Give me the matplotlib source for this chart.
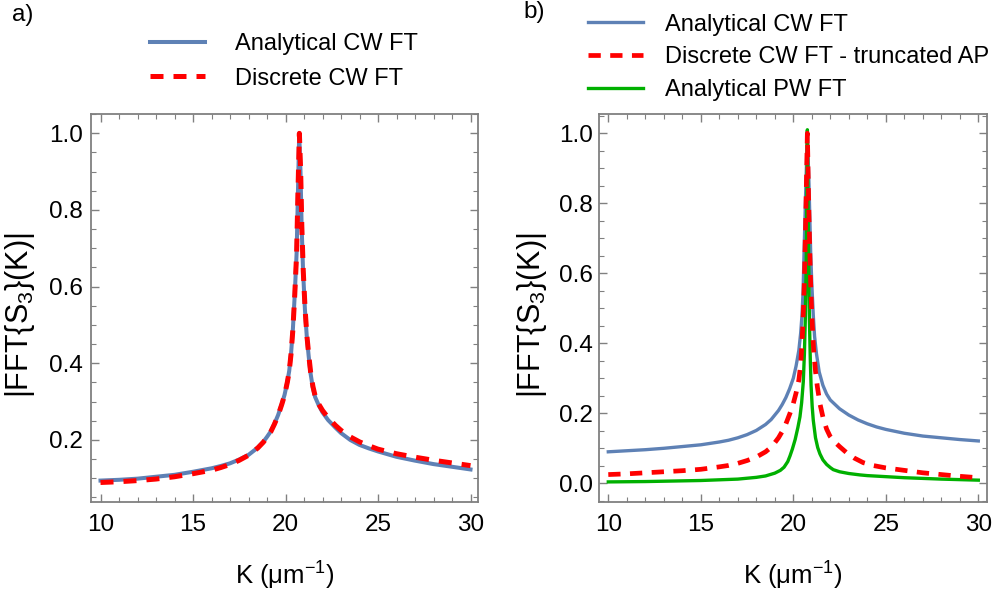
import matplotlib
matplotlib.use("Agg")
import matplotlib.pyplot as plt
from matplotlib.ticker import MultipleLocator, FormatStrFormatter

plt.rcParams['font.family'] = ['Liberation Sans', 'DejaVu Sans']
plt.rcParams['mathtext.fontset'] = 'custom'
plt.rcParams['mathtext.rm'] = 'Liberation Sans'
plt.rcParams['mathtext.it'] = 'Liberation Sans'

# ---------------- Panel a data ----------------
ka_blue = [10.0, 11.0, 12.0, 13.0, 14.0, 15.0, 16.0, 16.5, 17.0, 17.5, 18.0, 18.5, 18.8, 19.0,
           19.2, 19.4, 19.6, 19.8, 19.95, 20.1, 20.2, 20.3, 20.4, 20.5, 20.6, 20.67, 20.74,
           20.81, 20.87, 20.95, 21.05, 21.15, 21.25, 21.35, 21.47, 21.6, 21.8, 22.0, 22.3,
           22.7, 23.0, 23.5, 24.0, 24.5, 25.0, 26.0, 27.0, 28.0, 29.0, 30.0]
va_blue = [0.094, 0.096, 0.099, 0.104, 0.109, 0.117, 0.126, 0.132, 0.139, 0.149, 0.161, 0.180, 0.195, 0.208,
           0.222, 0.242, 0.265, 0.294, 0.318, 0.352, 0.380, 0.426, 0.490, 0.580, 0.687, 0.840, 1.0,
           0.900, 0.760, 0.640, 0.540, 0.470, 0.420, 0.375, 0.338, 0.312, 0.290, 0.272, 0.252,
           0.232, 0.218, 0.200, 0.187, 0.178, 0.170, 0.156, 0.146, 0.137, 0.130, 0.123]

ka_red = [10.0, 11.0, 12.0, 13.0, 14.0, 15.0, 16.0, 16.5, 17.0, 17.5, 18.0, 18.5, 18.8, 19.0,
          19.2, 19.4, 19.6, 19.8, 19.95, 20.1, 20.2, 20.3, 20.4, 20.5, 20.6, 20.67, 20.75,
          20.82, 20.88, 20.96, 21.06, 21.16, 21.26, 21.36, 21.48, 21.6, 21.8, 22.0, 22.3,
          22.7, 23.0, 23.5, 24.0, 24.5, 25.0, 26.0, 27.0, 28.0, 29.0, 30.0]
va_red = [0.089, 0.091, 0.094, 0.098, 0.104, 0.112, 0.121, 0.128, 0.136, 0.147, 0.160, 0.179, 0.194, 0.207,
          0.221, 0.241, 0.264, 0.293, 0.317, 0.351, 0.379, 0.425, 0.489, 0.579, 0.686, 0.840, 1.0,
          0.900, 0.760, 0.640, 0.540, 0.470, 0.420, 0.376, 0.340, 0.315, 0.293, 0.277, 0.258,
          0.238, 0.225, 0.208, 0.195, 0.185, 0.176, 0.164, 0.155, 0.147, 0.140, 0.133]

# ---------------- Panel b data ----------------
kb_blue = [10.0, 11.0, 12.0, 13.0, 14.0, 15.0, 16.0, 16.5, 17.0, 17.5, 18.0, 18.5, 18.8, 19.0,
           19.2, 19.4, 19.6, 19.8, 20.0, 20.15, 20.3, 20.4, 20.47, 20.53, 20.58, 20.68, 20.76,
           20.85, 20.94, 21.0, 21.08, 21.15, 21.25, 21.4, 21.6, 21.8, 22.0, 22.5, 23.0, 23.5,
           24.0, 24.5, 25.0, 26.0, 27.0, 28.0, 29.0, 30.0]
vb_blue = [0.090, 0.093, 0.096, 0.100, 0.105, 0.110, 0.118, 0.123, 0.130, 0.139, 0.151, 0.168, 0.182, 0.195,
           0.208, 0.225, 0.245, 0.270, 0.300, 0.335, 0.380, 0.430, 0.480, 0.550, 0.657, 0.850, 1.0,
           0.850, 0.657, 0.570, 0.480, 0.420, 0.371, 0.318, 0.280, 0.255, 0.238, 0.213, 0.195, 0.181,
           0.170, 0.161, 0.154, 0.143, 0.135, 0.130, 0.125, 0.121]

kb_red = [10.0, 11.0, 12.0, 13.0, 14.0, 15.0, 16.0, 16.5, 17.0, 17.5, 18.0, 18.5, 18.8, 19.0,
          19.2, 19.4, 19.6, 19.82, 20.0, 20.15, 20.3, 20.4, 20.47, 20.53, 20.6, 20.68, 20.76,
          20.84, 20.92, 21.0, 21.1, 21.2, 21.3, 21.45, 21.62, 21.8, 21.98, 22.2, 22.5, 22.89,
          23.3, 23.78, 24.3, 25.0, 26.0, 27.0, 28.0, 29.0, 30.0]
vb_red = [0.025, 0.027, 0.030, 0.033, 0.036, 0.040, 0.047, 0.051, 0.057, 0.065, 0.075, 0.090, 0.103, 0.116,
          0.130, 0.148, 0.170, 0.200, 0.228, 0.258, 0.295, 0.340, 0.400, 0.470, 0.580, 0.780, 1.0,
          0.780, 0.600, 0.480, 0.380, 0.320, 0.276, 0.225, 0.185, 0.155, 0.135, 0.120, 0.105, 0.087,
          0.072, 0.059, 0.051, 0.044, 0.037, 0.030, 0.025, 0.020, 0.016]

kb_green = [10.0, 12.0, 14.0, 15.0, 16.0, 17.0, 18.0, 18.5, 19.0, 19.3, 19.5, 19.7, 19.82, 19.95,
            20.1, 20.25, 20.36, 20.45, 20.54, 20.6, 20.65, 20.7, 20.74, 20.76, 20.79, 20.83,
            20.87, 20.92, 20.96, 21.02, 21.08, 21.2, 21.32, 21.44, 21.6, 21.8, 22.0, 22.16,
            22.5, 23.0, 23.6, 24.0, 25.0, 26.0, 28.0, 30.0]
vb_green = [0.004, 0.005, 0.007, 0.008, 0.010, 0.012, 0.017, 0.021, 0.029, 0.037, 0.046, 0.062, 0.078, 0.098,
            0.125, 0.160, 0.190, 0.230, 0.290, 0.370, 0.470, 0.640, 0.850, 1.010, 0.850, 0.640,
            0.470, 0.350, 0.280, 0.220, 0.180, 0.130, 0.102, 0.084, 0.067, 0.054, 0.045, 0.039,
            0.033, 0.028, 0.024, 0.022, 0.019, 0.016, 0.012, 0.009]

labels_a = ["Analytical CW FT", "Discrete CW FT"]
labels_b = ["Analytical CW FT", "Discrete CW FT - truncated AP", "Analytical PW FT"]

C_BLUE = "#5E81B5"
C_RED = "#FF0000"
C_GREEN = "#00B000"
FRAME = "#808080"
FS_TICK = 17.5
FS_LEG = 17
FS_YLAB = 22
FS_XLAB = 18.5

fig = plt.figure(figsize=(9.96, 5.97), dpi=100)
W, H = 996.0, 597.0
ax_a = fig.add_axes([91 / W, 1 - 502 / H, 387 / W, 388 / H])
ax_b = fig.add_axes([599.3 / W, 1 - 502 / H, 388 / W, 388 / H])

la1, = ax_a.plot(ka_blue, va_blue, color=C_BLUE, lw=2.9, zorder=2)
la2, = ax_a.plot(ka_red, va_red, color=C_RED, lw=3.6, dashes=(2.6, 2.0), zorder=3)

lb1, = ax_b.plot(kb_blue, vb_blue, color=C_BLUE, lw=2.4, zorder=2)
lb3, = ax_b.plot(kb_green, vb_green, color=C_GREEN, lw=2.4, zorder=3)
lb2, = ax_b.plot(kb_red, vb_red, color=C_RED, lw=3.4, dashes=(2.6, 2.0), zorder=4)

ax_a.set_xlim(9.486, 30.405)
ax_a.set_ylim(0.0381, 1.0504)
ax_b.set_xlim(9.514, 30.486)
ax_b.set_ylim(-0.0534, 1.055)

for ax, ylx, ypad in ((ax_a, (20 - 91) / 387, 6.0), (ax_b, (532 - 599.3) / 388, 4.5)):
    ax.xaxis.set_major_locator(MultipleLocator(5))
    ax.xaxis.set_minor_locator(MultipleLocator(1))
    ax.yaxis.set_major_locator(MultipleLocator(0.2))
    ax.yaxis.set_minor_locator(MultipleLocator(0.05))
    ax.yaxis.set_major_formatter(FormatStrFormatter('%.1f'))
    ax.tick_params(which='both', direction='in', top=True, right=True, color=FRAME,
                   labelsize=FS_TICK, labelcolor='black')
    ax.tick_params(which='major', length=6, width=1.0)
    ax.tick_params(axis='x', which='major', pad=8.5)
    ax.tick_params(axis='y', which='major', pad=ypad)
    ax.tick_params(which='minor', length=3.5, width=0.8)
    for s in ax.spines.values():
        s.set_color(FRAME)
        s.set_linewidth(1.3)
    ax.set_xlabel("K (μm$^{-1}$)", fontsize=FS_XLAB, va='center')
    ax.xaxis.set_label_coords(0.5, (502 - 576) / 388)
    ax.set_ylabel("|FFT{S$_3$}(K)|", fontsize=FS_YLAB, va='center')
    ax.yaxis.set_label_coords(ylx, 0.48)

fig.text(12 / W, 1 - 21 / H, "a)", fontsize=17.5, ha='left', va='baseline')
fig.text(523 / W, 1 - 18 / H, "b)", fontsize=17.5, ha='left', va='baseline')

fig.legend([la1, la2], labels_a, loc='upper left', bbox_to_anchor=(150 / W, 1 - 33 / H),
           frameon=False, fontsize=FS_LEG, handlelength=2.33, handletextpad=1.27,
           labelspacing=0.54, borderpad=0, borderaxespad=0)
fig.legend([lb1, lb2, lb3], labels_b, loc='upper left', bbox_to_anchor=(588 / W, 1 - 13.5 / H),
           frameon=False, fontsize=FS_LEG, handlelength=2.33, handletextpad=0.93,
           labelspacing=0.46, borderpad=0, borderaxespad=0)

fig.savefig("out.png", dpi=100)
